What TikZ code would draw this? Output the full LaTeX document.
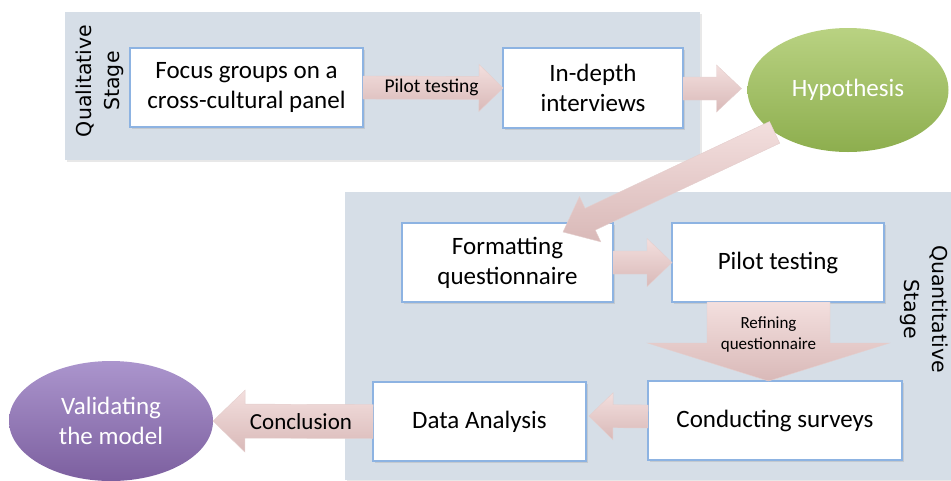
\documentclass[tikz,border=0pt]{standalone}
\usepackage{fontspec}
\setmainfont{Carlito}
\newfontfamily\stagefont{DejaVu Sans}
\usetikzlibrary{calc,shapes.geometric,shadows}
\definecolor{panelbg}{HTML}{D6DEE7}
\definecolor{boxline}{HTML}{8DB3E2}
\definecolor{arrtop}{HTML}{F3DFDE}
\definecolor{arrbot}{HTML}{D9B9B8}
\definecolor{hyptop}{HTML}{B9D282}
\definecolor{hypbot}{HTML}{8DAE4E}
\definecolor{valtop}{HTML}{AB95CD}
\definecolor{valbot}{HTML}{7C5F9F}
\newcommand\blkarrow[6]{%
  \coordinate (baH) at ($(#2)!#5!(#1)$);
  \path[#6] ($(#1)!#3!90:(#2)$) -- ($(baH)!#3!90:(#2)$) -- ($(baH)!#4!90:(#2)$) -- (#2)
    -- ($(baH)!#4!-90:(#2)$) -- ($(baH)!#3!-90:(#2)$) -- ($(#1)!#3!-90:(#2)$) -- cycle;}
\tikzset{
  panel/.style={fill=panelbg, draw=none, drop shadow={opacity=0.18, shadow xshift=1.5pt, shadow yshift=-2pt}},
  stepbox/.style={rectangle, fill=white, draw=boxline, line width=1.1pt, inner sep=0pt, outer sep=0pt,
    align=center, font=\fontsize{25}{30}\selectfont,
    drop shadow={opacity=0.22, shadow xshift=1.5pt, shadow yshift=-1.5pt}},
  blockarr/.style={top color=arrtop, bottom color=arrbot, draw=arrbot!70!white, line width=0.4pt},
  lbl/.style={inner sep=0pt, align=center, text=black},
  stagelbl/.style={inner sep=0pt, align=center, font=\stagefont\fontsize{20.5}{28}\selectfont},
  oval/.style={ellipse, inner sep=0pt, outer sep=0pt, align=center, text=white,
    font=\fontsize{25}{30}\selectfont}
}
\begin{document}
\begin{tikzpicture}[x=1pt,y=-1pt]
\useasboundingbox (0,0) rectangle (951,480);
% panels
\path[panel] (65,12) rectangle (700,160);
\path[panel] (345,192) rectangle (951,480);
% stage labels
\node[stagelbl, rotate=90] (qlab) at (100,81) {Qualitative\\Stage};
\node[stagelbl, rotate=-90] (nlab) at (924,309) {Quantitative\\Stage};
% boxes
\node[stepbox, minimum width=233, minimum height=79] (b1) at (246.5,87.5) {Focus groups on a\\cross-cultural panel};
\node[stepbox, minimum width=180, minimum height=80] (b2) at (593,88) {In-depth\\interviews};
\node[stepbox, minimum width=211, minimum height=79] (b3) at (507.5,262.5) {Formatting\\questionnaire};
\node[stepbox, minimum width=212, minimum height=79] (b4) at (778,262.5) {Pilot testing};
\node[stepbox, minimum width=254, minimum height=79] (b5) at (775,420.5) {Conducting surveys};
\node[stepbox, minimum width=213, minimum height=79] (b6) at (479.5,421.5) {Data Analysis};
% ovals
\node[oval, minimum width=201, minimum height=124, top color=hyptop, bottom color=hypbot] (hyp) at (848,90) {Hypothesis};
\node[oval, minimum width=204, minimum height=120, top color=valtop, bottom color=valbot] (val) at (111,421) {Validating\\the model};
% connector end points
\coordinate (h1) at ($(hyp.west)+(-6,-1.5)$);
\coordinate (h0) at ($(b2.east)+(0,0.5)$);
\coordinate (d1) at ($(b3.north east)+(-50,9)$);
\coordinate (r0) at ($(b4.south)+(-9.5,0)$);
\coordinate (r1) at (r0 |- b5.north);
\coordinate (s0) at ($(b5.west)+(0,-4)$);
\coordinate (s1) at ($(b6.east)+(3,-5.5)$);
% block arrows
\blkarrow{b1.east}{b2.west}{11.5pt}{23.5pt}{24pt}{blockarr}
\blkarrow{h0}{h1}{11.5pt}{23.5pt}{25pt}{blockarr}
\blkarrow{hyp.210}{d1}{12pt}{25pt}{30pt}{blockarr}
\blkarrow{b3.east}{b4.west}{11.5pt}{24pt}{25pt}{blockarr}
\blkarrow{r0}{r1}{61.5pt}{121pt}{38pt}{blockarr}
\blkarrow{s0}{s1}{11.5pt}{23.5pt}{24pt}{blockarr}
\blkarrow{b6.west}{val.east}{17pt}{31pt}{32pt}{blockarr}
% arrow labels
\node[lbl, font=\fontsize{19.5}{22}\selectfont] (l1) at ($(b1.east)!0.49!(b2.west)$) {Pilot testing};
\node[lbl, font=\fontsize{17}{21}\selectfont] (l2) at ($(r0)!0.41!(r1)$) {Refining\\questionnaire};
\node[lbl, font=\fontsize{23}{26}\selectfont] (l3) at ($(b6.west)!0.45!(val.east)$) {Conclusion};
\end{tikzpicture}
\end{document}
